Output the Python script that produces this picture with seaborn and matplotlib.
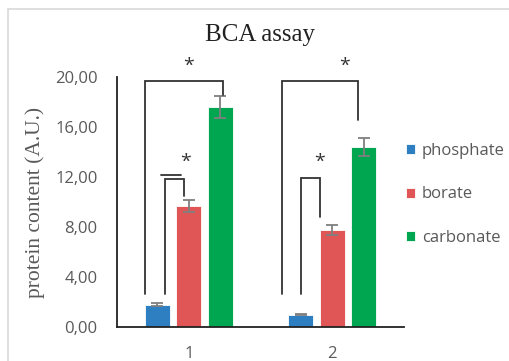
import pandas as pd
import matplotlib.pyplot as plt
import seaborn as sns
from matplotlib.patches import Rectangle

# data
groups = ["1", "2"]
buffers = ["phosphate", "borate", "carbonate"]
phosphate = [1.8, 1.0]
borate = [9.7, 7.8]
carbonate = [17.6, 14.4]
phosphate_err = [0.1, 0.05]
borate_err = [0.5, 0.4]
carbonate_err = [0.9, 0.75]
yticks = [0, 4, 8, 12, 16, 20]
ytick_labels = ["0,00", "4,00", "8,00", "12,00", "16,00", "20,00"]

colors = ["#2E7FC2", "#E05656", "#00A650"]
grey = "#595959"

df = pd.DataFrame({
    "group": groups * 3,
    "buffer": [b for b in buffers for _ in groups],
    "value": phosphate + borate + carbonate,
    "err": phosphate_err + borate_err + carbonate_err,
})

sns.set_style("white")
plt.rcParams["font.family"] = ["Open Sans", "DejaVu Sans"]

fig = plt.figure(figsize=(5.1, 3.61), dpi=100)
ax = fig.add_axes([117 / 510, 1 - 327 / 361, 287 / 510, 250 / 361])

sns.barplot(data=df, x="group", y="value", hue="buffer", order=groups,
            hue_order=buffers, palette=colors, saturation=1, errorbar=None,
            width=0.656, gap=0.2, edgecolor="white", linewidth=0.6, ax=ax)

# bar centres as placed by seaborn, one list per buffer
centers = [[p.get_x() + p.get_width() / 2 for p in c.patches] for c in ax.containers]

for xs, b in zip(centers, buffers):
    sub = df[df["buffer"] == b]
    ax.errorbar(xs, sub["value"], yerr=sub["err"], fmt="none",
                ecolor="#7F7F7F", elinewidth=1.3, capsize=4, capthick=1.3)

ax.set_xlim(-0.5, 1.5)
ax.set_ylim(0, 20)
ax.set_yticks(yticks)
ax.set_yticklabels(ytick_labels)
ax.tick_params(axis="both", length=0, labelsize=12, labelcolor=grey)
ax.tick_params(axis="y", pad=14)
ax.tick_params(axis="x", pad=14)
ax.set_xlabel("")
ax.set_ylabel("protein content (A.U.)", family="Liberation Serif",
              fontsize=15.5, color=grey, labelpad=7)
ax.set_title("BCA assay", family="Liberation Serif", fontsize=18,
             color="#222222", pad=26)
for s in ["top", "right"]:
    ax.spines[s].set_visible(False)
for s in ["left", "bottom"]:
    ax.spines[s].set_color("#222222")
    ax.spines[s].set_linewidth(1.3)

# significance brackets: (group, left bar, right bar, top, left end, right end, left dx, right dx)
brackets = [
    (0, 0, 2, 19.7, 2.64, 18.56, -0.087, 0.018),
    (0, 0, 1, 11.84, 2.64, 10.48, 0.052, -0.031),
    (1, 0, 2, 19.7, 2.64, 16.56, -0.129, -0.042),
    (1, 0, 1, 11.92, 2.64, 8.8, 0.003, -0.087),
]
star_y = [20.9, 13.2, 20.9, 13.2]
star_dx = [0.0, -0.023, 0.087, -0.087]
for (g, i, j, top, lb, rb, ldx, rdx), sdx, sy in zip(brackets, star_dx, star_y):
    x0 = centers[i][g] + ldx
    x1 = centers[j][g] + rdx
    ax.plot([x0, x0, x1, x1], [lb, top, top, rb], color="#333333", lw=1.3,
            clip_on=False, solid_joinstyle="miter")
    ax.text(centers[1][g] + sdx, sy, "*", ha="center", va="center",
            fontsize=14, color="#333333", clip_on=False)

# doubled line over the first small bracket
x0 = centers[0][0] + 0.024
ax.plot([x0, x0 + 0.139], [12.16, 12.16], color="#333333", lw=1.3, clip_on=False)

handles, labels = ax.get_legend_handles_labels()
leg = ax.legend(handles, labels, loc="upper left",
                bbox_to_anchor=(406 / 510, 1 - 143 / 361),
                bbox_transform=fig.transFigure, frameon=False,
                handlelength=0.55, handleheight=0.55, handletextpad=0.4,
                labelspacing=1.65, borderpad=0, borderaxespad=0, fontsize=12)
for t in leg.get_texts():
    t.set_color(grey)

# chart area frame
fig.patches.append(Rectangle((8.5 / 510, -0.1), 1.2, 1 - 8.5 / 361 + 0.1,
                             transform=fig.transFigure, fill=False,
                             edgecolor="#D9D9D9", lw=1.2))

fig.savefig("out.png", dpi=100)
